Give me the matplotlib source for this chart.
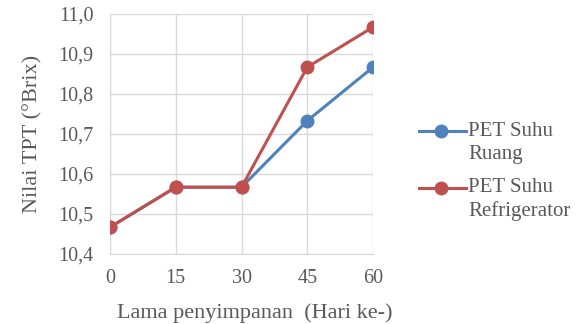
import numpy as np
import matplotlib.pyplot as plt
from matplotlib.lines import Line2D
from matplotlib.ticker import FuncFormatter

plt.rcParams['font.family'] = ['Liberation Serif', 'DejaVu Serif']

hari = [0, 15, 30, 45, 60]
suhu_ruang = [10.467, 10.567, 10.567, 10.733, 10.867]
suhu_refrigerator = [10.467, 10.567, 10.567, 10.867, 10.967]
label_ruang = ['PET Suhu', 'Ruang']
label_refri = ['PET Suhu', 'Refrigerator']

txt = '#595959'
grid_c = '#d9d9d9'
biru = '#4f81bd'
merah = '#c0504d'

fig = plt.figure(figsize=(5.82, 3.24), dpi=100)
ax = fig.add_axes([0.189, 0.216, 0.452, 0.741])

ax.plot(hari, suhu_ruang, color=biru, lw=2.2, marker='o', ms=9, zorder=3)
ax.plot(hari, suhu_refrigerator, color=merah, lw=2.2, marker='o', ms=9, zorder=4)

ax.set_xlim(0, 60)
ax.set_ylim(10.4, 11.0)
ax.set_xticks(hari)
ax.set_yticks(np.arange(10.4, 11.01, 0.1))
ax.yaxis.set_major_formatter(FuncFormatter(lambda v, p: ('%.1f' % v).replace('.', ',')))
ax.grid(True, color=grid_c, lw=1)
ax.set_axisbelow(True)
for s in ax.spines.values():
    s.set_visible(False)
ax.spines['left'].set_visible(True)
ax.spines['bottom'].set_visible(True)
ax.spines['left'].set_color(grid_c)
ax.spines['bottom'].set_color(grid_c)
ax.tick_params(length=0, labelsize=14.5, colors=txt)
ax.tick_params(axis='x', pad=11)
ax.tick_params(axis='y', pad=12)

ax.set_xlabel('Lama penyimpanan  (Hari ke-)', fontsize=16, color=txt)
ax.xaxis.set_label_coords(0.551, -0.205)
ax.set_ylabel('Nilai TPT (°Brix)', fontsize=16, color=txt, labelpad=11)

# legend drawn by hand so the marker sits on the first text line
entries = [(biru, label_ruang, 131), (merah, label_refri, 188)]
for warna, teks, ypix in entries:
    yf = 1 - ypix / 324
    fig.add_artist(Line2D([419 / 582, 466 / 582], [yf, yf], transform=fig.transFigure,
                          color=warna, lw=2.2))
    fig.add_artist(Line2D([441 / 582], [yf], transform=fig.transFigure, color=warna,
                          marker='o', ms=9))
    for i, baris in enumerate(teks):
        fig.text(468 / 582, 1 - (ypix + 23 * i) / 324, baris, fontsize=15,
                 color=txt, va='center')

fig.savefig('out.png', dpi=100)
